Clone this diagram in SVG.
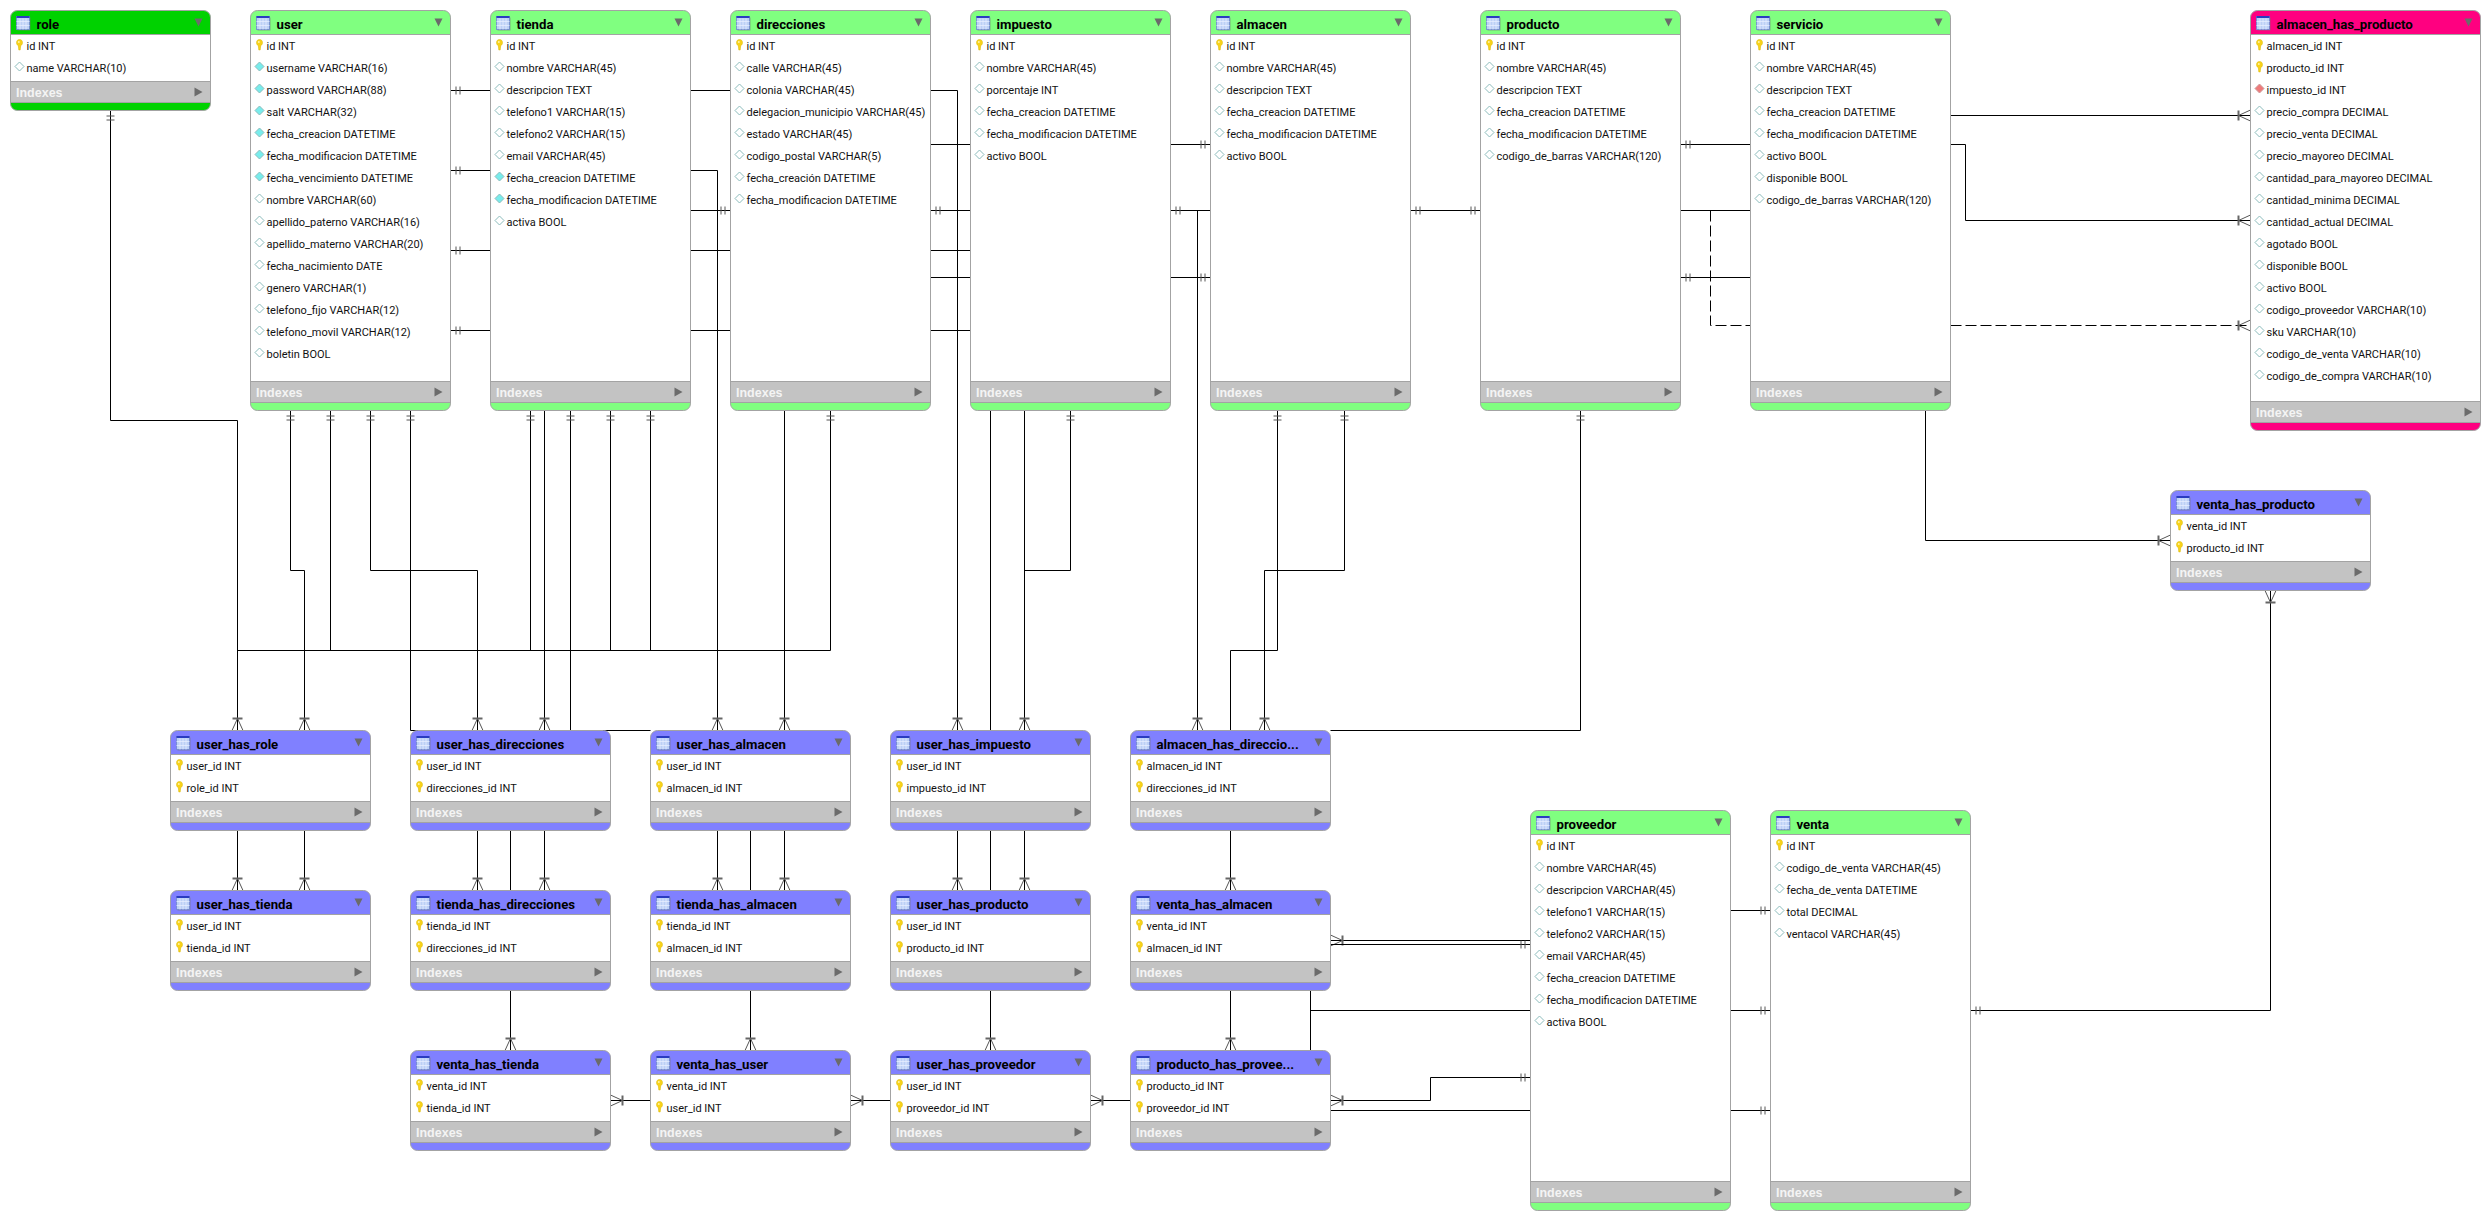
<svg xmlns="http://www.w3.org/2000/svg" xmlns:xlink="http://www.w3.org/1999/xlink" width="2490" height="1220" viewBox="0 0 2490 1220">
<style>
text{font-family:Roboto,"Liberation Sans","DejaVu Sans",sans-serif}
.t{font-size:13.2px;font-weight:700;fill:#000;stroke:none}
.c{font-size:11px;fill:#111;stroke:none}
.i{font-family:"Liberation Sans",sans-serif;font-size:12.5px;font-weight:700;fill:#f4f4f4;stroke:none}
.green{fill:#80ff80}
.lime{fill:#00d200}
.purple{fill:#8080ff}
.pink{fill:#ff0080}
.bd{stroke:#a3a3a3;stroke-width:1}
.ln{fill:none;stroke:#000;stroke-width:1}
.dash{stroke-dasharray:11 4}
.mk{fill:none;stroke:#555;stroke-width:1}
.bar{fill:none;stroke:#666;stroke-width:2}
#connectors .one{marker-start:url(#oneS)}
#connectors .end1{marker-end:url(#oneE)}
#connectors .mS{marker-start:url(#manyS)}
#connectors .mE{marker-end:url(#manyE)}
</style>
<defs>
<marker id="oneS" markerUnits="userSpaceOnUse" markerWidth="14" markerHeight="12" refX="0" refY="6" orient="auto" overflow="visible"><path class="mk" d="M5.5 2V10M9.5 2V10"/></marker>
<marker id="oneE" markerUnits="userSpaceOnUse" markerWidth="14" markerHeight="12" refX="14" refY="6" orient="auto" overflow="visible"><path class="mk" d="M4.5 2V10M8.5 2V10"/></marker>
<marker id="manyE" markerUnits="userSpaceOnUse" markerWidth="14" markerHeight="12" refX="14" refY="6" orient="auto" overflow="visible"><path class="bar" d="M2 1V11"/><path class="mk" d="M2 6L14 .5M2 6L14 11.5"/></marker>
<marker id="manyS" markerUnits="userSpaceOnUse" markerWidth="14" markerHeight="12" refX="0" refY="6" orient="auto" overflow="visible"><path class="bar" d="M12 1V11"/><path class="mk" d="M12 6L0 .5M12 6L0 11.5"/></marker>
<!-- table chrome, one per table size; the accent colour inherits from the node group -->
<g id="f100"><path class="bd" d="M0 7a7 7 0 0 1 7-7H193a7 7 0 0 1 7 7V93a7 7 0 0 1-7 7H7a7 7 0 0 1-7-7Z"/><rect y="24" width="200" height="47" fill="#fff"/><rect y="71" width="200" height="21" fill="#c3c3c3"/><path class="bd" d="M0 24H200M0 71H200M0 92H200M0 7V93M200 7V93"/><path d="M184 8l8 0-4 8Z" fill="#6b6b6b"/><path d="M184 77v9l8-4.500Z" fill="#6b6b6b"/></g>
<g id="f400"><path class="bd" d="M0 7a7 7 0 0 1 7-7H193a7 7 0 0 1 7 7V393a7 7 0 0 1-7 7H7a7 7 0 0 1-7-7Z"/><rect y="24" width="200" height="347" fill="#fff"/><rect y="371" width="200" height="21" fill="#c3c3c3"/><path class="bd" d="M0 24H200M0 371H200M0 392H200M0 7V393M200 7V393"/><path d="M184 8l8 0-4 8Z" fill="#6b6b6b"/><path d="M184 377v9l8-4.500Z" fill="#6b6b6b"/></g>
<g id="f420"><path class="bd" d="M0 7a7 7 0 0 1 7-7H223a7 7 0 0 1 7 7V413a7 7 0 0 1-7 7H7a7 7 0 0 1-7-7Z"/><rect y="24" width="230" height="367" fill="#fff"/><rect y="391" width="230" height="21" fill="#c3c3c3"/><path class="bd" d="M0 24H230M0 391H230M0 412H230M0 7V413M230 7V413"/><path d="M214 8l8 0-4 8Z" fill="#6b6b6b"/><path d="M214 397v9l8-4.500Z" fill="#6b6b6b"/></g>
<!-- table glyph of the header -->
<g id="ic"><rect x="7" y="7" width="13" height="13" fill="#7a7a7a" opacity=".6"/><rect x="6" y="6" width="13" height="13" fill="#bcd0f6" stroke="#6f86cf" stroke-width=".8"/><rect x="6" y="5.500" width="13" height="2" fill="#2a3cc0"/><path d="M9.500 8V19M12.500 8V19M15.500 8V19M6 11H19M6 15H19" stroke="#e6eeff" stroke-width=".8" fill="none"/></g>
<!-- column glyphs: key, plain diamond, filled diamond, foreign key -->
<g id="k"><path d="M9 29c2.200 0 3 1.500 3 3.200 0 1.500-1 2.500-1.800 3.200L9.700 39.500H8.300L7.800 35.400C7 34.700 6 33.700 6 32.200 6 30.500 6.800 29 9 29Z" fill="#f7d21a" stroke="#d9b400" stroke-width=".5"/><circle cx="8.300" cy="31.500" r="1" fill="#fff4a0"/></g>
<path id="d" d="M9 29.500L13.500 34 9 38.500 4.500 34Z" fill="#fff" stroke="#8cbcbc"/>
<path id="n" d="M9 29.500L13.500 34 9 38.500 4.500 34Z" fill="#78ecec" stroke="#8cbcbc"/>
<path id="f" d="M9 29.500L13.500 34 9 38.500 4.500 34Z" fill="#ee7a7a" stroke="#c99"/>
</defs>
<rect width="2490" height="1220" fill="#fff"/>

<g id="connectors" class="ln">
<path class="one mE" d="M110.500 110.500V420.500H237.500V730.500"/>
<path class="one mE" d="M290.500 410.500V570.500H304.500V730.500"/>
<path class="one" d="M330.500 410.500V650.500"/>
<path class="one mE" d="M370.500 410.500V570.500H477.500V730.500"/>
<path class="one" d="M410.500 410.500V730.500H650.500"/>
<path class="one" d="M530.500 410.500V650.500"/>
<path class="mE" d="M544.500 410.500V730.500"/>
<path class="one" d="M570.500 410.500V730.500"/>
<path class="one" d="M610.500 410.500V650.500"/>
<path class="one" d="M650.500 410.500V650.500"/>
<path class="mE" d="M690.500 170.500H717.500V730.500"/>
<path class="mE" d="M784.500 410.500V730.500"/>
<path class="one" d="M830.500 410.500V650.500H237.500"/>
<path class="mE" d="M930.500 90.500H957.500V730.500"/>
<path d="M990.500 410.500V730.500"/>
<path class="mE" d="M1024.500 410.500V730.500"/>
<path class="one" d="M1070.500 410.500V570.500H1024.500"/>
<path class="one" d="M1170.500 210.500H1210.500"/>
<path class="mE" d="M1197.500 210.500V730.500"/>
<path class="one" d="M1277.500 410.500V650.500H1230.500V730.500"/>
<path class="one mE" d="M1344.500 410.500V570.500H1264.500V730.500"/>
<path class="one" d="M1580.500 410.500V730.500H1330.500"/>
<path class="one" d="M450.500 90.500H490.500"/>
<path class="one" d="M450.500 170.500H490.500"/>
<path class="one" d="M450.500 250.500H490.500"/>
<path class="one" d="M450.500 330.500H490.500"/>
<path d="M690.500 90.500H730.500"/>
<path class="end1" d="M690.500 210.500H730.500"/>
<path d="M690.500 250.500H730.500"/>
<path d="M690.500 330.500H730.500"/>
<path d="M930.500 144.500H970.500"/>
<path class="one" d="M930.500 210.500H970.500"/>
<path d="M930.500 250.500H970.500"/>
<path d="M930.500 277.500H970.500"/>
<path d="M930.500 330.500H970.500"/>
<path class="end1" d="M1170.500 144.500H1210.500"/>
<path class="end1" d="M1170.500 277.500H1210.500"/>
<path class="one end1" d="M1410.500 210.500H1480.500"/>
<path class="one" d="M1680.500 144.500H1750.500"/>
<path d="M1680.500 210.500H1750.500"/>
<path class="one" d="M1680.500 277.500H1750.500"/>
<path class="dash" d="M1710.500 210.500V325.500H1750.500"/>
<path class="dash mE" d="M1950.500 325.500H2250.500"/>
<path class="mE" d="M1950.500 115.500H2250.500"/>
<path class="mE" d="M1950.500 144.500H1965.500V220.500H2250.500"/>
<path class="mE" d="M1925.500 410.500V540.500H2170.500"/>
<path class="mS end1" d="M2270.500 590.500V1010.500H1970.500"/>
<path class="mE" d="M237.500 830.500V890.500"/>
<path class="mE" d="M304.500 830.500V890.500"/>
<path class="mE" d="M477.500 830.500V890.500"/>
<path d="M510.500 830.500V890.500"/>
<path class="mE" d="M544.500 830.500V890.500"/>
<path class="mE" d="M717.500 830.500V890.500"/>
<path d="M750.500 830.500V890.500"/>
<path class="mE" d="M784.500 830.500V890.500"/>
<path class="mE" d="M957.500 830.500V890.500"/>
<path d="M990.500 830.500V890.500"/>
<path class="mE" d="M1024.500 830.500V890.500"/>
<path class="mE" d="M1230.500 830.500V890.500"/>
<path class="mE" d="M510.500 990.500V1050.500"/>
<path class="mE" d="M750.500 990.500V1050.500"/>
<path class="mE" d="M990.500 990.500V1050.500"/>
<path class="mE" d="M1230.500 990.500V1050.500"/>
<path d="M1310.500 990.500V1050.500"/>
<path d="M1310.500 1010.500H1530.500"/>
<path class="mS" d="M1330.500 940.500H1530.500"/>
<path class="end1" d="M1330.500 944.500H1530.500"/>
<path class="mS end1" d="M1330.500 1100.500H1430.500V1077.500H1530.500"/>
<path d="M1330.500 1110.500H1530.500"/>
<path class="end1" d="M1730.500 910.500H1770.500"/>
<path class="end1" d="M1730.500 1010.500H1770.500"/>
<path class="end1" d="M1730.500 1110.500H1770.500"/>
<path class="mS" d="M610.500 1100.500H650.500"/>
<path class="mS" d="M850.500 1100.500H890.500"/>
<path class="mS" d="M1090.500 1100.500H1130.500"/>
</g>

<g id="role" class="lime" transform="translate(10.500,10.500)"><use href="#f100"/><use href="#ic"/><text class="t" x="26" y="18">role</text><use href="#k"/><text class="c" x="16" y="39.500">id INT</text><use href="#d" y="22"/><text class="c" x="16" y="61.500">name VARCHAR(10)</text><text class="i" x="5.500" y="86">Indexes</text></g>

<g id="user" class="green" transform="translate(250.500,10.500)"><use href="#f400"/><use href="#ic"/><text class="t" x="26" y="18">user</text><use href="#k"/><text class="c" x="16" y="39.500">id INT</text>
<use href="#n" y="22"/><text class="c" x="16" y="61.500">username VARCHAR(16)</text>
<use href="#n" y="44"/><text class="c" x="16" y="83.500">password VARCHAR(88)</text>
<use href="#n" y="66"/><text class="c" x="16" y="105.500">salt VARCHAR(32)</text>
<use href="#n" y="88"/><text class="c" x="16" y="127.500">fecha_creacion DATETIME</text>
<use href="#n" y="110"/><text class="c" x="16" y="149.500">fecha_modificacion DATETIME</text>
<use href="#n" y="132"/><text class="c" x="16" y="171.500">fecha_vencimiento DATETIME</text>
<use href="#d" y="154"/><text class="c" x="16" y="193.500">nombre VARCHAR(60)</text>
<use href="#d" y="176"/><text class="c" x="16" y="215.500">apellido_paterno VARCHAR(16)</text>
<use href="#d" y="198"/><text class="c" x="16" y="237.500">apellido_materno VARCHAR(20)</text>
<use href="#d" y="220"/><text class="c" x="16" y="259.500">fecha_nacimiento DATE</text>
<use href="#d" y="242"/><text class="c" x="16" y="281.500">genero VARCHAR(1)</text>
<use href="#d" y="264"/><text class="c" x="16" y="303.500">telefono_fijo VARCHAR(12)</text>
<use href="#d" y="286"/><text class="c" x="16" y="325.500">telefono_movil VARCHAR(12)</text>
<use href="#d" y="308"/><text class="c" x="16" y="347.500">boletin BOOL</text>
<text class="i" x="5.500" y="386">Indexes</text></g>

<g id="tienda" class="green" transform="translate(490.500,10.500)"><use href="#f400"/><use href="#ic"/><text class="t" x="26" y="18">tienda</text><use href="#k"/><text class="c" x="16" y="39.500">id INT</text>
<use href="#d" y="22"/><text class="c" x="16" y="61.500">nombre VARCHAR(45)</text>
<use href="#d" y="44"/><text class="c" x="16" y="83.500">descripcion TEXT</text>
<use href="#d" y="66"/><text class="c" x="16" y="105.500">telefono1 VARCHAR(15)</text>
<use href="#d" y="88"/><text class="c" x="16" y="127.500">telefono2 VARCHAR(15)</text>
<use href="#d" y="110"/><text class="c" x="16" y="149.500">email VARCHAR(45)</text>
<use href="#n" y="132"/><text class="c" x="16" y="171.500">fecha_creacion DATETIME</text>
<use href="#n" y="154"/><text class="c" x="16" y="193.500">fecha_modificacion DATETIME</text>
<use href="#d" y="176"/><text class="c" x="16" y="215.500">activa BOOL</text>
<text class="i" x="5.500" y="386">Indexes</text></g>

<g id="direcciones" class="green" transform="translate(730.500,10.500)"><use href="#f400"/><use href="#ic"/><text class="t" x="26" y="18">direcciones</text><use href="#k"/><text class="c" x="16" y="39.500">id INT</text>
<use href="#d" y="22"/><text class="c" x="16" y="61.500">calle VARCHAR(45)</text>
<use href="#d" y="44"/><text class="c" x="16" y="83.500">colonia VARCHAR(45)</text>
<use href="#d" y="66"/><text class="c" x="16" y="105.500">delegacion_municipio VARCHAR(45)</text>
<use href="#d" y="88"/><text class="c" x="16" y="127.500">estado VARCHAR(45)</text>
<use href="#d" y="110"/><text class="c" x="16" y="149.500">codigo_postal VARCHAR(5)</text>
<use href="#d" y="132"/><text class="c" x="16" y="171.500">fecha_creación DATETIME</text>
<use href="#d" y="154"/><text class="c" x="16" y="193.500">fecha_modificacion DATETIME</text>
<text class="i" x="5.500" y="386">Indexes</text></g>

<g id="impuesto" class="green" transform="translate(970.500,10.500)"><use href="#f400"/><use href="#ic"/><text class="t" x="26" y="18">impuesto</text><use href="#k"/><text class="c" x="16" y="39.500">id INT</text>
<use href="#d" y="22"/><text class="c" x="16" y="61.500">nombre VARCHAR(45)</text>
<use href="#d" y="44"/><text class="c" x="16" y="83.500">porcentaje INT</text>
<use href="#d" y="66"/><text class="c" x="16" y="105.500">fecha_creacion DATETIME</text>
<use href="#d" y="88"/><text class="c" x="16" y="127.500">fecha_modificacion DATETIME</text>
<use href="#d" y="110"/><text class="c" x="16" y="149.500">activo BOOL</text>
<text class="i" x="5.500" y="386">Indexes</text></g>

<g id="almacen" class="green" transform="translate(1210.500,10.500)"><use href="#f400"/><use href="#ic"/><text class="t" x="26" y="18">almacen</text><use href="#k"/><text class="c" x="16" y="39.500">id INT</text>
<use href="#d" y="22"/><text class="c" x="16" y="61.500">nombre VARCHAR(45)</text>
<use href="#d" y="44"/><text class="c" x="16" y="83.500">descripcion TEXT</text>
<use href="#d" y="66"/><text class="c" x="16" y="105.500">fecha_creacion DATETIME</text>
<use href="#d" y="88"/><text class="c" x="16" y="127.500">fecha_modificacion DATETIME</text>
<use href="#d" y="110"/><text class="c" x="16" y="149.500">activo BOOL</text>
<text class="i" x="5.500" y="386">Indexes</text></g>

<g id="producto" class="green" transform="translate(1480.500,10.500)"><use href="#f400"/><use href="#ic"/><text class="t" x="26" y="18">producto</text><use href="#k"/><text class="c" x="16" y="39.500">id INT</text>
<use href="#d" y="22"/><text class="c" x="16" y="61.500">nombre VARCHAR(45)</text>
<use href="#d" y="44"/><text class="c" x="16" y="83.500">descripcion TEXT</text>
<use href="#d" y="66"/><text class="c" x="16" y="105.500">fecha_creacion DATETIME</text>
<use href="#d" y="88"/><text class="c" x="16" y="127.500">fecha_modificacion DATETIME</text>
<use href="#d" y="110"/><text class="c" x="16" y="149.500">codigo_de_barras VARCHAR(120)</text>
<text class="i" x="5.500" y="386">Indexes</text></g>

<g id="servicio" class="green" transform="translate(1750.500,10.500)"><use href="#f400"/><use href="#ic"/><text class="t" x="26" y="18">servicio</text><use href="#k"/><text class="c" x="16" y="39.500">id INT</text>
<use href="#d" y="22"/><text class="c" x="16" y="61.500">nombre VARCHAR(45)</text>
<use href="#d" y="44"/><text class="c" x="16" y="83.500">descripcion TEXT</text>
<use href="#d" y="66"/><text class="c" x="16" y="105.500">fecha_creacion DATETIME</text>
<use href="#d" y="88"/><text class="c" x="16" y="127.500">fecha_modificacion DATETIME</text>
<use href="#d" y="110"/><text class="c" x="16" y="149.500">activo BOOL</text>
<use href="#d" y="132"/><text class="c" x="16" y="171.500">disponible BOOL</text>
<use href="#d" y="154"/><text class="c" x="16" y="193.500">codigo_de_barras VARCHAR(120)</text>
<text class="i" x="5.500" y="386">Indexes</text></g>

<g id="almacen_has_producto" class="pink" transform="translate(2250.500,10.500)"><use href="#f420"/><use href="#ic"/><text class="t" x="26" y="18">almacen_has_producto</text><use href="#k"/><text class="c" x="16" y="39.500">almacen_id INT</text>
<use href="#k" y="22"/><text class="c" x="16" y="61.500">producto_id INT</text>
<use href="#f" y="44"/><text class="c" x="16" y="83.500">impuesto_id INT</text>
<use href="#d" y="66"/><text class="c" x="16" y="105.500">precio_compra DECIMAL</text>
<use href="#d" y="88"/><text class="c" x="16" y="127.500">precio_venta DECIMAL</text>
<use href="#d" y="110"/><text class="c" x="16" y="149.500">precio_mayoreo DECIMAL</text>
<use href="#d" y="132"/><text class="c" x="16" y="171.500">cantidad_para_mayoreo DECIMAL</text>
<use href="#d" y="154"/><text class="c" x="16" y="193.500">cantidad_minima DECIMAL</text>
<use href="#d" y="176"/><text class="c" x="16" y="215.500">cantidad_actual DECIMAL</text>
<use href="#d" y="198"/><text class="c" x="16" y="237.500">agotado BOOL</text>
<use href="#d" y="220"/><text class="c" x="16" y="259.500">disponible BOOL</text>
<use href="#d" y="242"/><text class="c" x="16" y="281.500">activo BOOL</text>
<use href="#d" y="264"/><text class="c" x="16" y="303.500">codigo_proveedor VARCHAR(10)</text>
<use href="#d" y="286"/><text class="c" x="16" y="325.500">sku VARCHAR(10)</text>
<use href="#d" y="308"/><text class="c" x="16" y="347.500">codigo_de_venta VARCHAR(10)</text>
<use href="#d" y="330"/><text class="c" x="16" y="369.500">codigo_de_compra VARCHAR(10)</text>
<text class="i" x="5.500" y="406">Indexes</text></g>

<g id="venta_has_producto" class="purple" transform="translate(2170.500,490.500)"><use href="#f100"/><use href="#ic"/><text class="t" x="26" y="18">venta_has_producto</text><use href="#k"/><text class="c" x="16" y="39.500">venta_id INT</text><use href="#k" y="22"/><text class="c" x="16" y="61.500">producto_id INT</text><text class="i" x="5.500" y="86">Indexes</text></g>

<g id="user_has_role" class="purple" transform="translate(170.500,730.500)"><use href="#f100"/><use href="#ic"/><text class="t" x="26" y="18">user_has_role</text><use href="#k"/><text class="c" x="16" y="39.500">user_id INT</text><use href="#k" y="22"/><text class="c" x="16" y="61.500">role_id INT</text><text class="i" x="5.500" y="86">Indexes</text></g>
<g id="user_has_direcciones" class="purple" transform="translate(410.500,730.500)"><use href="#f100"/><use href="#ic"/><text class="t" x="26" y="18">user_has_direcciones</text><use href="#k"/><text class="c" x="16" y="39.500">user_id INT</text><use href="#k" y="22"/><text class="c" x="16" y="61.500">direcciones_id INT</text><text class="i" x="5.500" y="86">Indexes</text></g>
<g id="user_has_almacen" class="purple" transform="translate(650.500,730.500)"><use href="#f100"/><use href="#ic"/><text class="t" x="26" y="18">user_has_almacen</text><use href="#k"/><text class="c" x="16" y="39.500">user_id INT</text><use href="#k" y="22"/><text class="c" x="16" y="61.500">almacen_id INT</text><text class="i" x="5.500" y="86">Indexes</text></g>
<g id="user_has_impuesto" class="purple" transform="translate(890.500,730.500)"><use href="#f100"/><use href="#ic"/><text class="t" x="26" y="18">user_has_impuesto</text><use href="#k"/><text class="c" x="16" y="39.500">user_id INT</text><use href="#k" y="22"/><text class="c" x="16" y="61.500">impuesto_id INT</text><text class="i" x="5.500" y="86">Indexes</text></g>
<g id="almacen_has_direcciones" class="purple" transform="translate(1130.500,730.500)"><use href="#f100"/><use href="#ic"/><text class="t" x="26" y="18">almacen_has_direccio...</text><use href="#k"/><text class="c" x="16" y="39.500">almacen_id INT</text><use href="#k" y="22"/><text class="c" x="16" y="61.500">direcciones_id INT</text><text class="i" x="5.500" y="86">Indexes</text></g>

<g id="user_has_tienda" class="purple" transform="translate(170.500,890.500)"><use href="#f100"/><use href="#ic"/><text class="t" x="26" y="18">user_has_tienda</text><use href="#k"/><text class="c" x="16" y="39.500">user_id INT</text><use href="#k" y="22"/><text class="c" x="16" y="61.500">tienda_id INT</text><text class="i" x="5.500" y="86">Indexes</text></g>
<g id="tienda_has_direcciones" class="purple" transform="translate(410.500,890.500)"><use href="#f100"/><use href="#ic"/><text class="t" x="26" y="18">tienda_has_direcciones</text><use href="#k"/><text class="c" x="16" y="39.500">tienda_id INT</text><use href="#k" y="22"/><text class="c" x="16" y="61.500">direcciones_id INT</text><text class="i" x="5.500" y="86">Indexes</text></g>
<g id="tienda_has_almacen" class="purple" transform="translate(650.500,890.500)"><use href="#f100"/><use href="#ic"/><text class="t" x="26" y="18">tienda_has_almacen</text><use href="#k"/><text class="c" x="16" y="39.500">tienda_id INT</text><use href="#k" y="22"/><text class="c" x="16" y="61.500">almacen_id INT</text><text class="i" x="5.500" y="86">Indexes</text></g>
<g id="user_has_producto" class="purple" transform="translate(890.500,890.500)"><use href="#f100"/><use href="#ic"/><text class="t" x="26" y="18">user_has_producto</text><use href="#k"/><text class="c" x="16" y="39.500">user_id INT</text><use href="#k" y="22"/><text class="c" x="16" y="61.500">producto_id INT</text><text class="i" x="5.500" y="86">Indexes</text></g>
<g id="venta_has_almacen" class="purple" transform="translate(1130.500,890.500)"><use href="#f100"/><use href="#ic"/><text class="t" x="26" y="18">venta_has_almacen</text><use href="#k"/><text class="c" x="16" y="39.500">venta_id INT</text><use href="#k" y="22"/><text class="c" x="16" y="61.500">almacen_id INT</text><text class="i" x="5.500" y="86">Indexes</text></g>

<g id="venta_has_tienda" class="purple" transform="translate(410.500,1050.500)"><use href="#f100"/><use href="#ic"/><text class="t" x="26" y="18">venta_has_tienda</text><use href="#k"/><text class="c" x="16" y="39.500">venta_id INT</text><use href="#k" y="22"/><text class="c" x="16" y="61.500">tienda_id INT</text><text class="i" x="5.500" y="86">Indexes</text></g>
<g id="venta_has_user" class="purple" transform="translate(650.500,1050.500)"><use href="#f100"/><use href="#ic"/><text class="t" x="26" y="18">venta_has_user</text><use href="#k"/><text class="c" x="16" y="39.500">venta_id INT</text><use href="#k" y="22"/><text class="c" x="16" y="61.500">user_id INT</text><text class="i" x="5.500" y="86">Indexes</text></g>
<g id="user_has_proveedor" class="purple" transform="translate(890.500,1050.500)"><use href="#f100"/><use href="#ic"/><text class="t" x="26" y="18">user_has_proveedor</text><use href="#k"/><text class="c" x="16" y="39.500">user_id INT</text><use href="#k" y="22"/><text class="c" x="16" y="61.500">proveedor_id INT</text><text class="i" x="5.500" y="86">Indexes</text></g>
<g id="producto_has_proveedor" class="purple" transform="translate(1130.500,1050.500)"><use href="#f100"/><use href="#ic"/><text class="t" x="26" y="18">producto_has_provee...</text><use href="#k"/><text class="c" x="16" y="39.500">producto_id INT</text><use href="#k" y="22"/><text class="c" x="16" y="61.500">proveedor_id INT</text><text class="i" x="5.500" y="86">Indexes</text></g>

<g id="proveedor" class="green" transform="translate(1530.500,810.500)"><use href="#f400"/><use href="#ic"/><text class="t" x="26" y="18">proveedor</text><use href="#k"/><text class="c" x="16" y="39.500">id INT</text>
<use href="#d" y="22"/><text class="c" x="16" y="61.500">nombre VARCHAR(45)</text>
<use href="#d" y="44"/><text class="c" x="16" y="83.500">descripcion VARCHAR(45)</text>
<use href="#d" y="66"/><text class="c" x="16" y="105.500">telefono1 VARCHAR(15)</text>
<use href="#d" y="88"/><text class="c" x="16" y="127.500">telefono2 VARCHAR(15)</text>
<use href="#d" y="110"/><text class="c" x="16" y="149.500">email VARCHAR(45)</text>
<use href="#d" y="132"/><text class="c" x="16" y="171.500">fecha_creacion DATETIME</text>
<use href="#d" y="154"/><text class="c" x="16" y="193.500">fecha_modificacion DATETIME</text>
<use href="#d" y="176"/><text class="c" x="16" y="215.500">activa BOOL</text>
<text class="i" x="5.500" y="386">Indexes</text></g>

<g id="venta" class="green" transform="translate(1770.500,810.500)"><use href="#f400"/><use href="#ic"/><text class="t" x="26" y="18">venta</text><use href="#k"/><text class="c" x="16" y="39.500">id INT</text>
<use href="#d" y="22"/><text class="c" x="16" y="61.500">codigo_de_venta VARCHAR(45)</text>
<use href="#d" y="44"/><text class="c" x="16" y="83.500">fecha_de_venta DATETIME</text>
<use href="#d" y="66"/><text class="c" x="16" y="105.500">total DECIMAL</text>
<use href="#d" y="88"/><text class="c" x="16" y="127.500">ventacol VARCHAR(45)</text>
<text class="i" x="5.500" y="386">Indexes</text></g>
</svg>
